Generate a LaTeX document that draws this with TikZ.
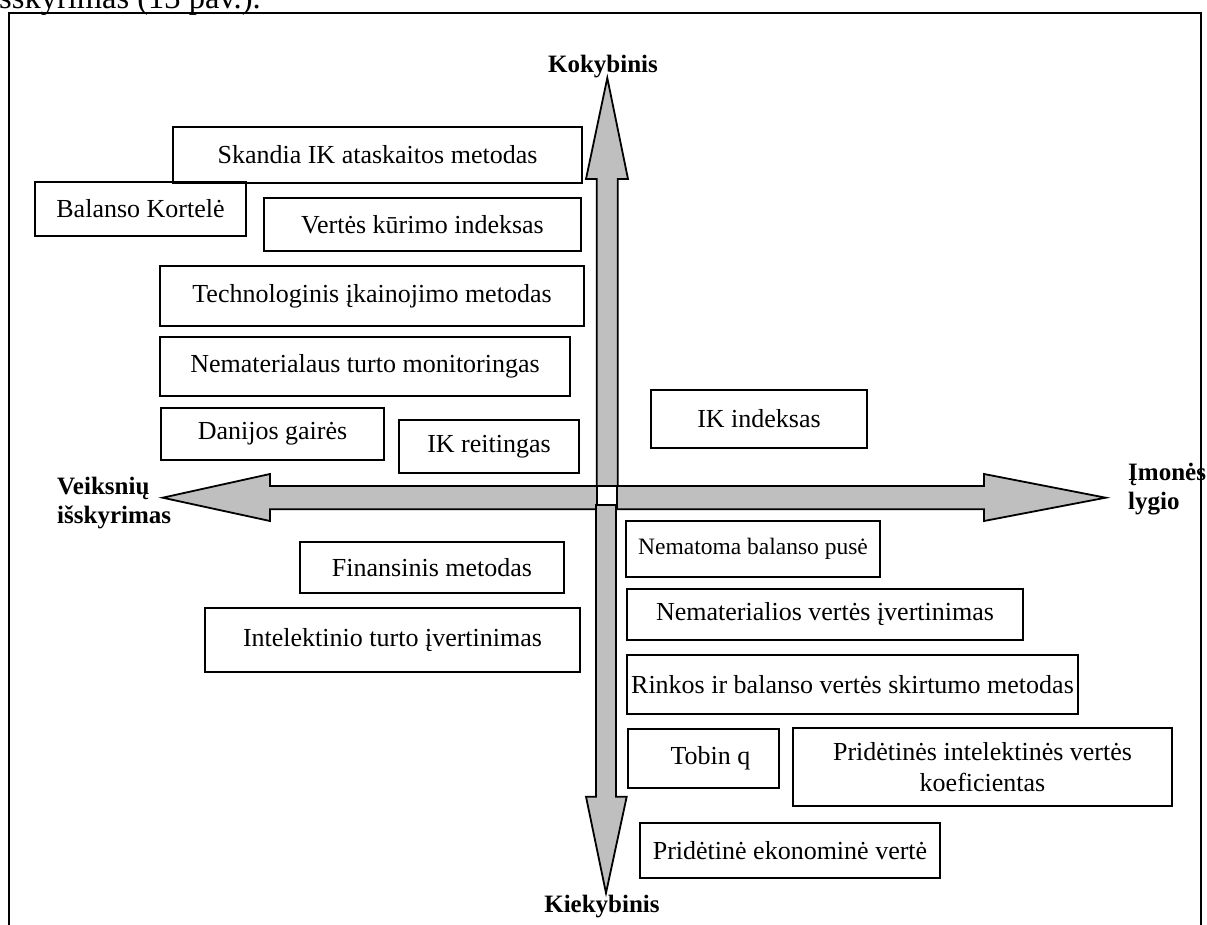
\documentclass[tikz,border=0pt]{standalone}
\usepackage{fontspec}
\setmainfont{Liberation Serif}
\begin{document}
\begin{tikzpicture}[x=1pt, y=-1pt,
  box/.style={draw, line width=1.7pt, inner sep=0pt, align=center,
    font=\fontsize{26}{31}\selectfont},
  smalltext/.style={font=\fontsize{23.5}{28}\selectfont},
  axislabel/.style={inner sep=0pt, font=\fontsize{25}{29}\selectfont\bfseries},
  blockarrow/.style={draw, line width=1.8pt, fill=black!25, line join=miter}]
\clip (0,0) rectangle (1207,925);
\useasboundingbox (0,0) rectangle (1207,925);

% running text above the frame
\node[anchor=base west, inner sep=0pt, font=\fontsize{32.5}{36}\selectfont]
  (caption) at (-10,9) {išskyrimas (13 pav.).};

% frame
\draw[line width=2.6pt] (9,940) -- (9,13) -- (1201,13) -- (1201,940);

% four block arrows from the centre
\draw[blockarrow] (597,509.3) -- (270,509.3) -- (270,521) -- (162.7,497.7)
  -- (270,474) -- (270,486) -- (597,486) -- cycle;
\draw[blockarrow] (617,509.3) -- (984,509.3) -- (984,521) -- (1105.7,497.7)
  -- (984,474) -- (984,486) -- (617,486) -- cycle;
\draw[blockarrow] (596.7,486) -- (596.7,179) -- (586,179) -- (607.3,78)
  -- (628,179) -- (617.7,179) -- (617.7,486) -- cycle;
\draw[blockarrow] (596,505) -- (596,796.7) -- (586,796.7) -- (606,893)
  -- (626.7,796.7) -- (616,796.7) -- (616,505) -- cycle;

% axis labels
\node[axislabel, anchor=base] (qual) at (603,73) {Kokybinis};
\node[axislabel, anchor=base] (quant) at (602,912) {Kiekybinis};
\node[axislabel, anchor=north west, align=left] (factors) at (57,477)
  {Veiksnių\\išskyrimas};
\node[axislabel, anchor=north west, align=left] (company) at (1128,463)
  {Įmonės\\lygio};

% method boxes
\node[box, minimum width=409pt, minimum height=56pt] (skandia) at (377.5,155)
  {Skandia IK ataskaitos metodas};
\node[box, minimum width=211pt, minimum height=54pt] (bsc) at (140.5,209)
  {Balanso Kortelė};
\node[box, minimum width=317pt, minimum height=53pt] (vci) at (422.5,224.5)
  {Vertės kūrimo indeksas};
\node[box, minimum width=424pt, minimum height=60pt] (tech) at (372,296)
  {Technologinis įkainojimo metodas};
\node[box, minimum width=410pt, minimum height=59pt] (monitor) at (365,366.5)
  {Nematerialaus turto monitoringas};
\node[box, minimum width=223pt, minimum height=52pt] (danish) at (272.5,434)
  {Danijos gairės};
\node[box, minimum width=180pt, minimum height=53pt] (icrating) at (489,446.5)
  {IK reitingas};
\node[box, minimum width=216pt, minimum height=58pt] (icindex) at (759,419)
  {IK indeksas};
\node[box, smalltext, minimum width=254pt, minimum height=56pt] (invisible) at (753,549)
  {Nematoma balanso pusė};
\node[box, minimum width=264pt, minimum height=51pt] (financial) at (432,567.5)
  {Finansinis metodas};
\node[box, minimum width=396pt, minimum height=51pt] (intangible) at (825,614.5)
  {Nematerialios vertės įvertinimas};
\node[box, minimum width=375pt, minimum height=64pt] (intellect) at (392.5,640)
  {Intelektinio turto įvertinimas};
\node[box, minimum width=451pt, minimum height=59pt] (market) at (852.5,684.5)
  {Rinkos ir balanso vertės skirtumo metodas};
\node[box, minimum width=151pt, minimum height=59pt] (tobin) at (703.5,758.5)
  {\hspace*{14pt}Tobin q};
\node[box, minimum width=379pt, minimum height=78pt] (vaic) at (982.5,767)
  {Pridėtinės intelektinės vertės\\koeficientas};
\node[box, minimum width=300pt, minimum height=55pt] (eva) at (790,850.5)
  {Pridėtinė ekonominė vertė};
\end{tikzpicture}
\end{document}
